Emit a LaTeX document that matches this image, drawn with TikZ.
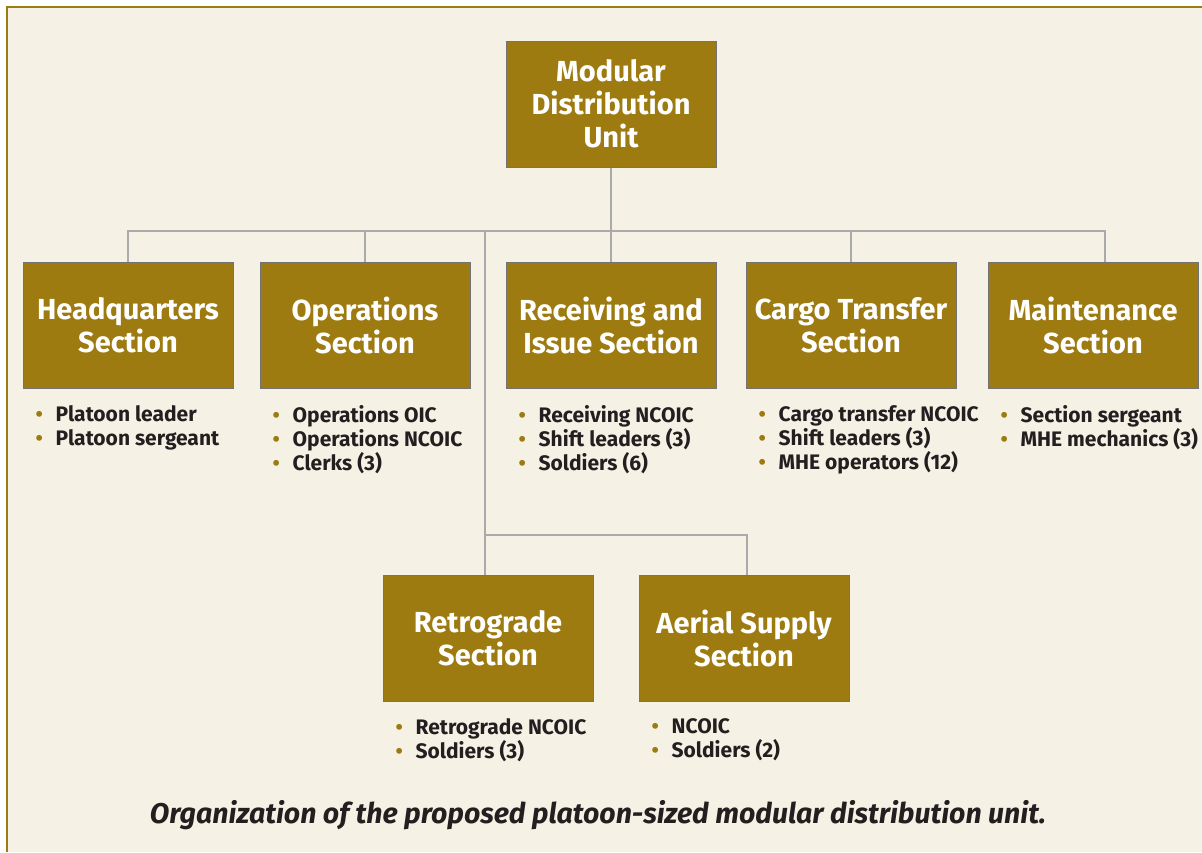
\documentclass[tikz,border=0pt]{standalone}
\usepackage{fontspec}
\setmainfont{Fira Sans}
\usetikzlibrary{positioning}
\definecolor{unitgold}{RGB}{157,123,16}
\definecolor{paper}{RGB}{245,241,229}
\definecolor{wiregray}{RGB}{170,170,170}
\definecolor{ink}{RGB}{35,31,32}
\newcommand{\itm}{\makebox[20pt][l]{\textcolor{unitgold}{\textbullet}}}

\begin{document}
\begin{tikzpicture}[x=1pt, y=-1pt,
  unit/.style={draw=black!55, line width=1pt, fill=unitgold, text=white,
    font=\fontsize{29}{33}\selectfont\bfseries, align=center,
    minimum width=210pt, minimum height=126pt, inner sep=0pt},
  duties/.style={anchor=north west, align=left, text=ink, inner sep=0pt,
    font=\fontsize{21}{24}\selectfont\bfseries},
  wire/.style={draw=wiregray, line width=2.5pt}]
  \useasboundingbox (0,0) rectangle (1202,852);
  \fill[white] (0,0) rectangle (1202,852);
  \fill[paper] (7,7) rectangle (1202,852);
  \draw[unitgold, line width=2.5pt] (7,852) -- (7,7) -- (1202,7);

  \node[unit] (mdu) at (611,104) {Modular\\Distribution\\Unit};
  \node[unit] (hq)  at (128,325) {Headquarters\\Section};
  \node[unit] (ops) at (365,325) {Operations\\Section};
  \node[unit] (ris) at (611,325) {Receiving and\\Issue Section};
  \node[unit] (cts) at (851,325) {Cargo Transfer\\Section};
  \node[unit] (mnt) at (1093,325) {Maintenance\\Section};
  \node[unit] (ret) at (488,638) {Retrograde\\Section};
  \node[unit] (aer) at (744,638) {Aerial Supply\\Section};

  \coordinate (bus) at (611,231);
  \coordinate (sub) at (485,535);
  \draw[wire] (mdu.south) -- (ris.north);
  \draw[wire] (hq.north) |- ([xshift=12pt]mnt.north |- bus) -- ([xshift=12pt]mnt.north);
  \draw[wire] (ops.north) -- (ops.north |- bus);
  \draw[wire] (cts.north) -- (cts.north |- bus);
  \draw[wire] ([xshift=-3pt]ret.north |- bus) -- ([xshift=-3pt]ret.north);
  \draw[wire] ([xshift=-3pt]ret.north |- sub) -| ([xshift=3pt]aer.north);

  \node[duties] (hqlist)  at ([shift={(13,17)}]hq.south west)  {\itm Platoon leader\\\itm Platoon sergeant};
  \node[duties] (opslist) at ([shift={(13,17)}]ops.south west) {\itm Operations OIC\\\itm Operations NCOIC\\\itm Clerks (3)};
  \node[duties] (rislist) at ([shift={(13,17)}]ris.south west) {\itm Receiving NCOIC\\\itm Shift leaders (3)\\\itm Soldiers (6)};
  \node[duties] (ctslist) at ([shift={(13,17)}]cts.south west) {\itm Cargo transfer NCOIC\\\itm Shift leaders (3)\\\itm MHE operators (12)};
  \node[duties] (mntlist) at ([shift={(13,17)}]mnt.south west) {\itm Section sergeant\\\itm MHE mechanics (3)};
  \node[duties] (retlist) at ([shift={(13,17)}]ret.south west) {\itm Retrograde NCOIC\\\itm Soldiers (3)};
  \node[duties] (aerlist) at ([shift={(13,17)}]aer.south west) {\itm NCOIC\\\itm Soldiers (2)};

  \node[text=ink, font=\fontsize{28.5}{33}\selectfont\bfseries\itshape] (caption) at (598,815)
    {Organization of the proposed platoon-sized modular distribution unit.};
\end{tikzpicture}
\end{document}
